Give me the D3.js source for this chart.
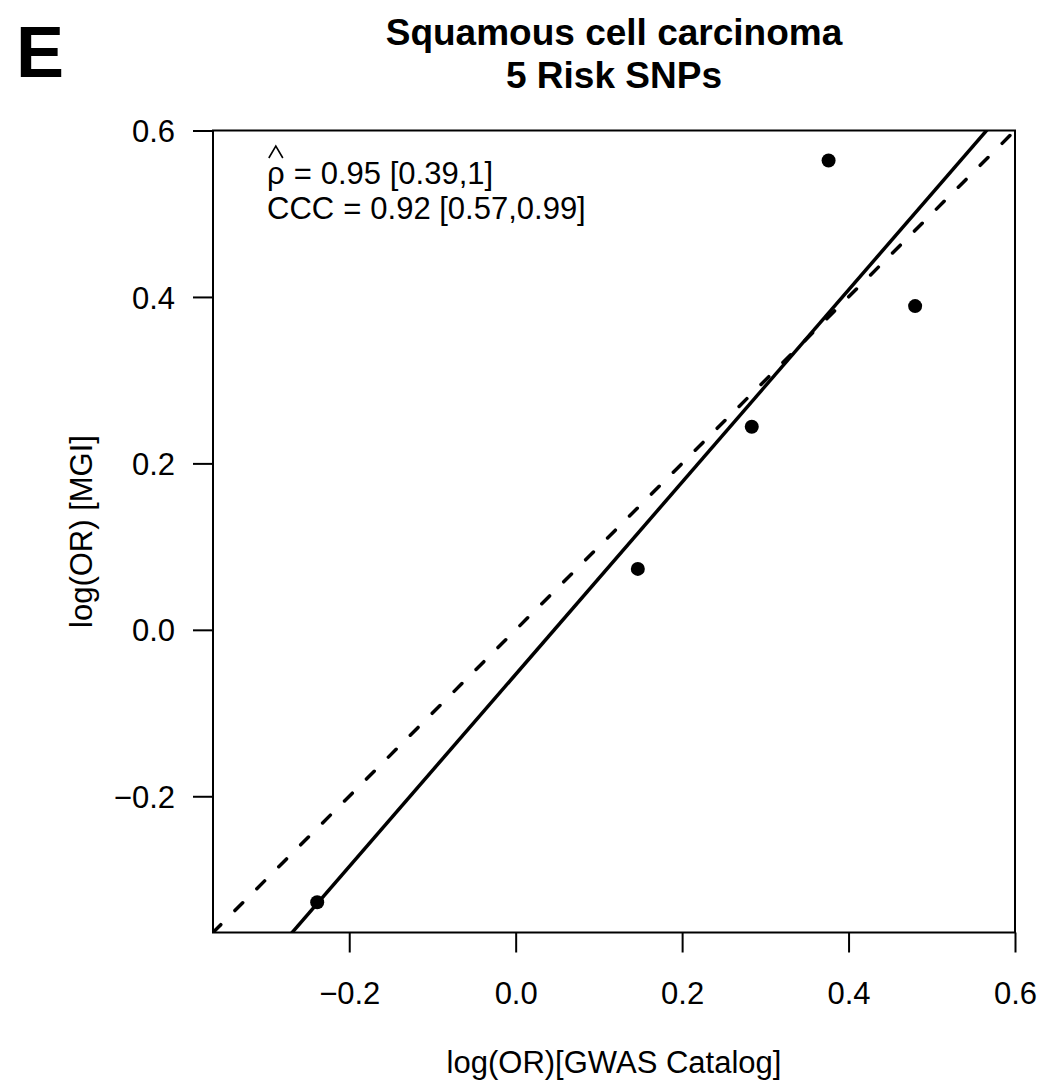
<!DOCTYPE html>
<html>
<head>
<meta charset="utf-8">
<script src="https://cdn.jsdelivr.net/npm/d3@7"></script>
<style>
  html, body { margin: 0; padding: 0; background: #fff; }
  svg { display: block; font-family: "Liberation Sans", Arial, Helvetica, sans-serif; }
</style>
</head>
<body>
<svg id="chart" width="1041" height="1086"></svg>
<script>
// ---- data ----
const gwasLogOR = [-0.2385, 0.1468, 0.2837, 0.376, 0.480];
const mgiLogOR  = [-0.3274, 0.0732, 0.244, 0.564, 0.389];
const axisDomain = [-0.3637, 0.6];
const xTicks = [-0.2, 0.0, 0.2, 0.4, 0.6];
const xTickLabels = ["\u22120.2", "0.0", "0.2", "0.4", "0.6"];
const yTicks = [-0.2, 0.0, 0.2, 0.4, 0.6];
const yTickLabels = ["\u22120.2", "0.0", "0.2", "0.4", "0.6"];
const panelLetter = "E";
const titleLines = ["Squamous cell carcinoma", "5 Risk SNPs"];
const xLabel = "log(OR)[GWAS Catalog]";
const yLabel = "log(OR) [MGI]";
const rhoParts = ["\u03C1", "=", "0.95 [0.39,1]"];
const cccParts = ["CCC", "=", "0.92 [0.57,0.99]"];

// ---- layout ----
const L = 213, R = 1015, T = 130.5, B = 932.5;
const svg = d3.select("#chart");
const x = d3.scaleLinear().domain(axisDomain).range([L, R]);
const y = d3.scaleLinear().domain(axisDomain).range([B, T]);

svg.append("defs").append("clipPath").attr("id", "plotclip")
  .append("rect").attr("x", L).attr("y", T).attr("width", R - L).attr("height", B - T);

// regression (least squares from the points)
const n = gwasLogOR.length;
const mx = d3.mean(gwasLogOR), my = d3.mean(mgiLogOR);
let sxy = 0, sxx = 0;
for (let i = 0; i < n; i++) { sxy += (gwasLogOR[i]-mx)*(mgiLogOR[i]-my); sxx += (gwasLogOR[i]-mx)**2; }
const slope = sxy / sxx, intercept = my - slope * mx;

const g = svg.append("g").attr("clip-path", "url(#plotclip)");
const line = d3.line().x(d => x(d[0])).y(d => y(d[1]));

// identity dashed line (starting at the lower-left corner)
g.append("path")
  .attr("d", line([[axisDomain[0], axisDomain[0]], [axisDomain[1] + 0.1, axisDomain[1] + 0.1]]))
  .attr("fill", "none").attr("stroke", "#000").attr("stroke-width", 3.5)
  .attr("stroke-dasharray", "11,20").attr("stroke-linecap", "round");

const ext = [axisDomain[0] - 0.2, axisDomain[1] + 0.2];
g.append("path")
  .attr("d", line(ext.map(v => [v, intercept + slope * v])))
  .attr("fill", "none").attr("stroke", "#000").attr("stroke-width", 3.5);

svg.append("g").selectAll("circle").data(gwasLogOR).join("circle")
  .attr("cx", d => x(d)).attr("cy", (d, i) => y(mgiLogOR[i])).attr("r", 7).attr("fill", "#000");

svg.append("rect").attr("x", L).attr("y", T).attr("width", R - L).attr("height", B - T)
  .attr("fill", "none").attr("stroke", "#000").attr("stroke-width", 2);

const xa = svg.append("g").attr("transform", `translate(0,${B})`)
  .call(d3.axisBottom(x).tickValues(xTicks).tickSize(20).tickFormat((d, i) => xTickLabels[i]));
xa.select(".domain").remove();
xa.selectAll("line").attr("stroke-width", 2);
xa.selectAll("text").attr("y", 71).attr("dy", null).attr("font-size", 31)
  .attr("font-family", "Liberation Sans, Arial, sans-serif").attr("fill", "#000");

const ya = svg.append("g").attr("transform", `translate(${L},0)`)
  .call(d3.axisLeft(y).tickValues(yTicks).tickSize(20).tickFormat((d, i) => yTickLabels[i]));
ya.select(".domain").remove();
ya.selectAll("line").attr("stroke-width", 2);
ya.selectAll("text").attr("x", -38).attr("dy", "0.36em").attr("font-size", 31)
  .attr("font-family", "Liberation Sans, Arial, sans-serif").attr("fill", "#000");

svg.append("text").attr("x", 16).attr("y", 77).attr("font-size", 72).attr("font-weight", "bold").text(panelLetter);
titleLines.forEach((t, i) => {
  svg.append("text").attr("x", (L + R) / 2).attr("y", 45 + i * 43)
    .attr("text-anchor", "middle").attr("font-size", 37).attr("font-weight", "bold").text(t);
});

svg.append("text").attr("x", (L + R) / 2).attr("y", 1073).attr("text-anchor", "middle")
  .attr("font-size", 31).text(xLabel);
svg.append("text").attr("transform", `translate(92,${(T + B) / 2}) rotate(-90)`)
  .attr("text-anchor", "middle").attr("font-size", 31).text(yLabel);

// annotation (plotmath-like spacing around "=")
const ax = 267;
function mathLine(parts, yy) {
  const t = svg.append("text").attr("x", ax).attr("y", yy).attr("font-size", 31);
  const first = t.append("tspan").text(parts[0]);
  t.append("tspan").attr("dx", 9).text(parts[1]);
  t.append("tspan").attr("dx", 9).text(parts[2]);
  return first;
}
const rho = mathLine(rhoParts, 184);
mathLine(cccParts, 219);
const rhoW = rho.node().getComputedTextLength();
const cx = ax + rhoW / 2;
svg.append("path")
  .attr("d", d3.line()([[cx - 7, 158], [cx, 146], [cx + 7, 158]]))
  .attr("fill", "none").attr("stroke", "#000").attr("stroke-width", 1.6);
</script>
</body>
</html>
